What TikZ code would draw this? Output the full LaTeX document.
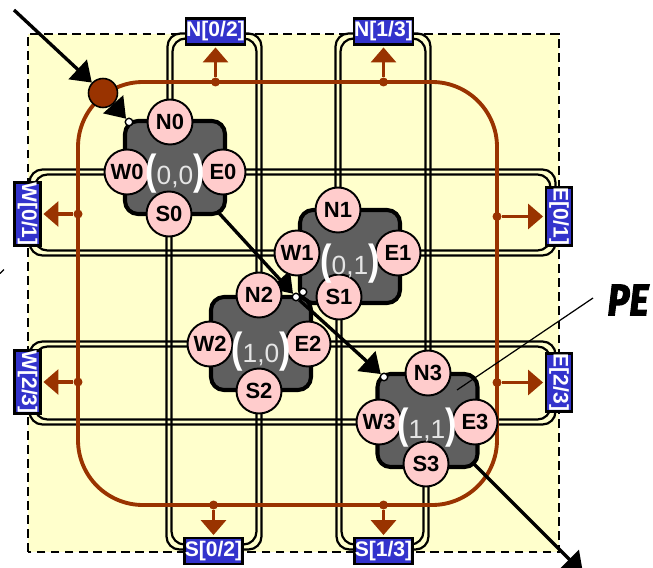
\documentclass[tikz,border=0pt]{standalone}
\usepackage{fontspec}
\setsansfont{Liberation Sans}
\newfontfamily\penfont[BoldItalicFeatures={FakeBold=2.5}]{Fira Sans}
\usepackage{xcolor}
\usetikzlibrary{arrows.meta}
\definecolor{tile}{RGB}{255,255,204}
\definecolor{ring}{RGB}{153,51,0}
\definecolor{portc}{RGB}{255,204,204}
\definecolor{bodyc}{RGB}{95,95,95}
\definecolor{tagc}{RGB}{51,51,204}
\pgfdeclarelayer{background}
\pgfdeclarelayer{wires}
\pgfsetlayers{background,wires,main}
\newcommand{\tallp}[1]{\scalebox{1.3}[1.6]{\textcolor{white}{\bfseries #1}}}
\newcommand{\chanv}[4]{%
  \draw[chan] ([xshift=-0.05cm]#1.center) |- ([yshift=#4*0.05cm]#2) -| ([xshift=0.05cm]#3.center);
  \draw[chan] ([xshift=0.05cm]#1.center) |- ([yshift=#4*-0.05cm]#2) -| ([xshift=-0.05cm]#3.center);}
\newcommand{\chanh}[4]{%
  \draw[chan] ([yshift=0.05cm]#1.center) -| ([xshift=#4*0.05cm]#2) |- ([yshift=-0.05cm]#3.center);
  \draw[chan] ([yshift=-0.05cm]#1.center) -| ([xshift=#4*-0.05cm]#2) |- ([yshift=0.05cm]#3.center);}

\begin{document}
\begin{tikzpicture}[
  pe/.style={draw=black,fill=bodyc,line width=2.3pt,rounded corners=0.26cm,minimum width=2cm,minimum height=1.86cm},
  port/.style={circle,draw=black,fill=portc,line width=1.1pt,minimum size=0.9cm,inner sep=0pt,font=\sffamily\bfseries\fontsize{12.5}{14}\selectfont},
  coord/.style={anchor=base,text=black!10,font=\sffamily\fontsize{15}{18}\selectfont},
  tag/.style={draw=black,fill=tagc,text=white,line width=1.3pt,inner sep=0pt,minimum width=1.16cm,minimum height=0.52cm,font=\sffamily\bfseries\fontsize{12}{14}\selectfont},
  chan/.style={black,line width=1.25pt,rounded corners=0.26cm},
  dot/.style={circle,fill=ring,inner sep=0pt,minimum size=0.18cm},
  hole/.style={circle,draw=black,fill=white,line width=0.8pt,inner sep=0pt,minimum size=0.15cm},
  tap/.style={ring,line width=2.2pt,-{Triangle[length=8.5pt,width=14pt]},shorten >=1pt},
  flow/.style={black,line width=1.9pt,-{Triangle[length=11pt,width=15pt]}}]
\useasboundingbox (0,0) rectangle (13.06,11.34);
% processing elements
\node[port] (N0) at (3.40,8.90) {N0};
\node[port] (W0) at (2.54,7.90) {W0};
\node[port] (E0) at (4.46,7.90) {E0};
\node[port] (S0) at (3.38,7.06) {S0};
\node[port] (N1) at (6.76,7.14) {N1};
\node[port] (W1) at (5.94,6.28) {W1};
\node[port] (E1) at (7.96,6.28) {E1};
\node[port] (S1) at (6.78,5.40) {S1};
\node[port] (N2) at (5.18,5.44) {N2};
\node[port] (W2) at (4.20,4.46) {W2};
\node[port] (E2) at (6.16,4.46) {E2};
\node[port] (S2) at (5.18,3.52) {S2};
\node[port] (N3) at (8.56,3.88) {N3};
\node[port] (W3) at (7.58,2.90) {W3};
\node[port] (E3) at (9.50,2.90) {E3};
\node[port] (S3) at (8.52,2.06) {S3};
\node[hole] (w0) at (2.58,8.90) {};
\node[hole] (w1) at (6.06,5.50) {};
\node[hole] (w2) at (5.92,5.40) {};
\node[hole] (w3) at (7.68,3.80) {};
% tags on the border
\node[tag] (lN0) at (4.31,10.71) {N[0/2]};
\node[tag] (lN1) at (7.67,10.71) {N[1/3]};
\node[tag] (lS0) at (4.27,0.32) {S[0/2]};
\node[tag] (lS1) at (7.67,0.32) {S[1/3]};
\node[tag,rotate=-90] (lW0) at (0.55,7.06) {W[0/1]};
\node[tag,rotate=-90] (lW2) at (0.55,3.70) {W[2/3]};
\node[tag,rotate=-90] (lE0) at (11.18,7.01) {E[0/1]};
\node[tag,rotate=-90] (lE2) at (11.18,3.69) {E[2/3]};
\begin{pgfonlayer}{background}
  \fill[tile] (0.56,0.30) rectangle (11.18,10.66);
  \draw[black,line width=0.9pt,dash pattern=on 5pt off 3pt] (0.56,0.30) rectangle (11.18,10.66);
  \coordinate (cN0) at (4.30,10.62); \coordinate (cN1) at (7.66,10.62);
  \coordinate (cS0) at (4.30,0.40); \coordinate (cS1) at (7.66,0.40);
  \coordinate (cW0) at (0.64,7.05); \coordinate (cW2) at (0.64,3.70);
  \coordinate (cE0) at (11.06,7.05); \coordinate (cE2) at (11.06,3.70);
  \chanv{N0}{cN0}{N2}{1}
  \chanv{N1}{cN1}{N3}{1}
  \chanv{S0}{cS0}{S2}{-1}
  \chanv{S1}{cS1}{S3}{-1}
  \chanh{W0}{cW0}{W1}{-1}
  \chanh{E0}{cE0}{E1}{1}
  \chanh{W2}{cW2}{W3}{-1}
  \chanh{E2}{cE2}{E3}{1}
  \draw[ring,line width=2.2pt,rounded corners=1.3cm] (1.56,1.24) rectangle (9.94,9.70);
  \node[pe] (pe0) at (3.50,7.99) {};
  \node[pe] (pe1) at (7.00,6.21) {};
  \node[pe] (pe2) at (5.22,4.47) {};
  \node[pe] (pe3) at (8.55,2.93) {};
\end{pgfonlayer}
\node[coord] (t0) at (3.50,7.64) {\tallp{(}0,0\tallp{)}};
\node[coord] (t1) at (7.00,5.86) {\tallp{(}0,1\tallp{)}};
\node[coord] (t2) at (5.22,4.10) {\tallp{(}1,0\tallp{)}};
\node[coord] (t3) at (8.54,2.58) {\tallp{(}1,1\tallp{)}};
% ring taps and the token path
\begin{pgfonlayer}{wires}
  \node[dot] (dN0) at (4.31,9.70) {};
  \node[dot] (dN1) at (7.67,9.70) {};
  \node[dot] (dS0) at (4.27,1.24) {};
  \node[dot] (dS1) at (7.67,1.24) {};
  \node[dot] (dW0) at (1.56,7.06) {};
  \node[dot] (dW2) at (1.56,3.70) {};
  \node[dot] (dE0) at (9.94,7.01) {};
  \node[dot] (dE2) at (9.94,3.69) {};
  \draw[tap] (dN0)--(lN0);
  \draw[tap] (dN1)--(lN1);
  \draw[tap] (dS0)--(lS0);
  \draw[tap] (dS1)--(lS1);
  \draw[tap] (dW0)--(lW0);
  \draw[tap] (dW2)--(lW2);
  \draw[tap] (dE0)--(lE0);
  \draw[tap] (dE2)--(lE2);
  \node[circle,draw=black,fill=ring,line width=0.9pt,minimum size=0.58cm,inner sep=0pt] (src) at (2.06,9.48) {};
  \coordinate (start) at (0.28,11.14);
  \coordinate (o0) at (4.36,7.10);
  \coordinate (o3) at (9.44,2.10);
  \coordinate (stop) at (11.66,-0.12);
  \draw[flow] (start)--(src);
  \draw[flow] (src)--(w0);
  \draw[flow] (o0)--(w2);
  \draw[flow] (w2)--(w3);
  \draw[flow] (o3)--(stop);
\end{pgfonlayer}
% pointer to the PE
\coordinate (peend) at (11.86,5.38);
\coordinate (pein) at (9.14,3.54);
\draw[black,line width=0.7pt] (peend)--(pein);
\node (pelab) at (12.56,5.34) {\scalebox{1}[1.2]{\penfont\bfseries\itshape\fontsize{21}{24}\selectfont PE}};
\coordinate (markA) at (0,5.87);
\coordinate (markB) at (0.08,5.95);
\draw[black,line width=0.7pt] (markA)--(markB);
\end{tikzpicture}
\end{document}
